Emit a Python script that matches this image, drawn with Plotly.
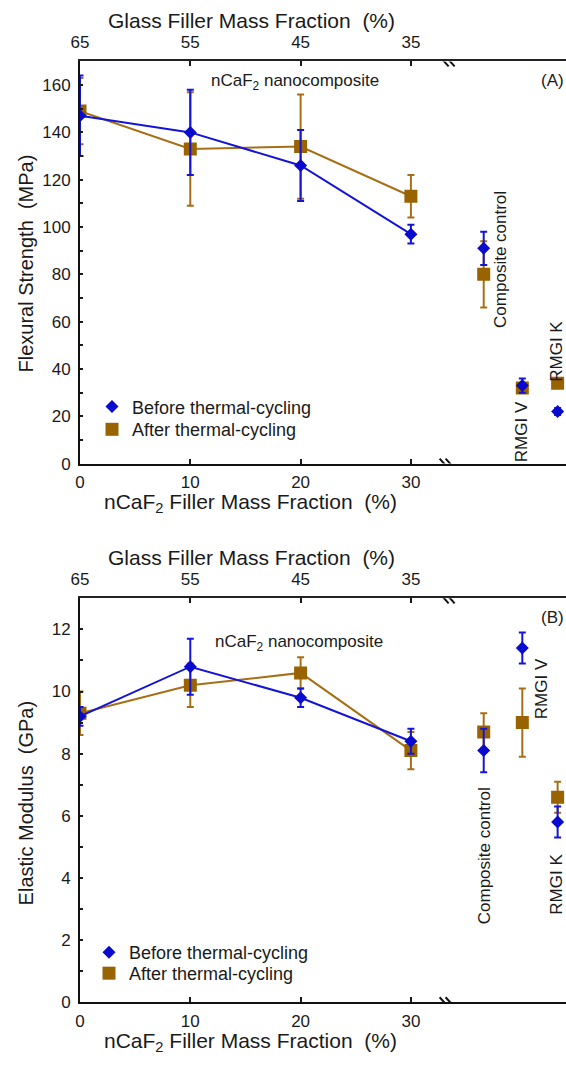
import plotly.graph_objects as go

# ---------------- data ----------------
ncaf2_frac = [0, 10, 20, 30]
ncaf2_labels = ["0", "10", "20", "30"]
glass_labels = ["65", "55", "45", "35"]

flex_before = [147, 140, 126, 97]
flex_before_err = [17, 18, 15, 4]
flex_after = [149, 133, 134, 113]
flex_after_err = [14, 24, 22, 9]

control_names = ["Composite control", "RMGI V", "RMGI K"]
control_x = [36.6, 40.1, 43.3]
flex_ctrl_before = [91, 33, 22]
flex_ctrl_before_err = [7, 3, 1.5]
flex_ctrl_after = [80, 32, 34]
flex_ctrl_after_err = [14, 2, 1.5]

mod_before = [9.2, 10.8, 9.8, 8.4]
mod_before_err = [0.3, 0.9, 0.3, 0.4]
mod_after = [9.3, 10.2, 10.6, 8.1]
mod_after_err = [0.7, 0.7, 0.5, 0.6]
mod_ctrl_before = [8.1, 11.4, 5.8]
mod_ctrl_before_err = [0.7, 0.5, 0.5]
mod_ctrl_after = [8.7, 9.0, 6.6]
mod_ctrl_after_err = [0.6, 1.1, 0.5]

series_names = ["Before thermal-cycling", "After thermal-cycling"]

# ---------------- styles ----------------
FONT = "Liberation Sans, Arial, sans-serif"
TXT = "#1a1a1a"
BLUE_M = "#0A0ACF"
BLUE_L = "#1414D9"
BROWN_M = "#996300"
BROWN_L = "#A66F16"
XMAX = 44.06
BREAK_X = 33.6

W, H = 566, 1068
top_dom = [1 - 468 / H, 1 - 62 / H]
bot_dom = [1 - 1011.7 / H, 1 - 604 / H]

fig = go.Figure()


def add_panel(xa, ya, legs, before, berr, after, aerr, cb, cberr, ca, caerr):
    # after (brown) first, blue on top
    fig.add_trace(go.Scatter(
        x=ncaf2_frac, y=after, mode="lines+markers", xaxis=xa, yaxis=ya,
        line=dict(color=BROWN_L, width=2),
        marker=dict(symbol="square", size=13, color=BROWN_M),
        error_y=dict(type="data", array=aerr, color=BROWN_L, thickness=2, width=3.5),
        showlegend=False, hoverinfo="skip"))
    fig.add_trace(go.Scatter(
        x=control_x, y=ca, mode="markers", xaxis=xa, yaxis=ya,
        marker=dict(symbol="square", size=13, color=BROWN_M),
        error_y=dict(type="data", array=caerr, color=BROWN_L, thickness=2, width=3.5),
        showlegend=False, hoverinfo="skip"))
    fig.add_trace(go.Scatter(
        x=ncaf2_frac, y=before, mode="lines+markers", xaxis=xa, yaxis=ya,
        line=dict(color=BLUE_L, width=2),
        marker=dict(symbol="diamond", size=10, color=BLUE_M),
        error_y=dict(type="data", array=berr, color=BLUE_L, thickness=2, width=3.5),
        showlegend=False, hoverinfo="skip"))
    fig.add_trace(go.Scatter(
        x=control_x, y=cb, mode="markers", xaxis=xa, yaxis=ya,
        marker=dict(symbol="diamond", size=10, color=BLUE_M),
        error_y=dict(type="data", array=cberr, color=BLUE_L, thickness=2, width=3.5),
        showlegend=False, hoverinfo="skip"))
    # legend entries (marker only), one legend box per entry for exact placement
    fig.add_trace(go.Scatter(
        x=[None], y=[None], mode="markers", xaxis=xa, yaxis=ya, name=series_names[0],
        marker=dict(symbol="diamond", size=10, color=BLUE_M), legend=legs[0]))
    fig.add_trace(go.Scatter(
        x=[None], y=[None], mode="markers", xaxis=xa, yaxis=ya, name=series_names[1],
        marker=dict(symbol="square", size=13, color=BROWN_M), legend=legs[1]))


add_panel("x", "y", ("legend", "legend3"), flex_before, flex_before_err, flex_after, flex_after_err,
          flex_ctrl_before, flex_ctrl_before_err, flex_ctrl_after, flex_ctrl_after_err)
add_panel("x2", "y2", ("legend2", "legend4"), mod_before, mod_before_err, mod_after, mod_after_err,
          mod_ctrl_before, mod_ctrl_before_err, mod_ctrl_after, mod_ctrl_after_err)

# invisible traces so the top axes render
fig.add_trace(go.Scatter(x=[None], y=[None], xaxis="x3", yaxis="y", showlegend=False, hoverinfo="skip"))
fig.add_trace(go.Scatter(x=[None], y=[None], xaxis="x4", yaxis="y2", showlegend=False, hoverinfo="skip"))

tickfont = dict(family=FONT, size=17, color=TXT)


def bottom_x(anchor):
    return dict(domain=[0, 1], anchor=anchor, range=[0, XMAX], tickmode="array",
                tickvals=ncaf2_frac, ticktext=ncaf2_labels, ticks="inside", ticklen=5,
                tickwidth=1.5, tickcolor=TXT, showline=True, linewidth=2, linecolor="#111",
                showgrid=False, zeroline=False, tickfont=tickfont, ticklabelstandoff=2)


def top_x(over, anchor):
    return dict(overlaying=over, anchor=anchor, side="top", range=[0, XMAX], tickmode="array",
                tickvals=ncaf2_frac, ticktext=glass_labels, ticks="inside", ticklen=5,
                tickwidth=1.5, tickcolor=TXT, showline=True, linewidth=1.5, linecolor="#222",
                showgrid=False, zeroline=False, tickfont=tickfont, ticklabelstandoff=5)


def y_ax(dom, anchor, rng, dtick):
    return dict(domain=dom, anchor=anchor, range=rng, dtick=dtick, tick0=0, ticks="inside",
                ticklen=3, tickwidth=1.5, tickcolor=TXT, showline=True, linewidth=2,
                linecolor="#111", showgrid=False, zeroline=False, tickfont=tickfont,
                ticklabelstandoff=4,
                minor=dict(dtick=dtick / 2, ticks="inside", ticklen=3, tickwidth=1.5,
                           tickcolor=TXT, showgrid=False))


def leg_box(marker_x, marker_y):
    # legend symbol sits ~20 px right of the box's left edge, ~12 px below its top
    return dict(x=(marker_x - 20 - 80) / 486, xanchor="left", y=1 - (marker_y - 12) / H,
                yanchor="top", font=dict(family=FONT, size=18, color=TXT),
                bgcolor="rgba(0,0,0,0)", itemwidth=30, borderwidth=0)


fig.update_layout(
    width=W, height=H, margin=dict(l=80, r=0, t=0, b=0),
    paper_bgcolor="white", plot_bgcolor="white",
    font=dict(family=FONT, color=TXT),
    xaxis=bottom_x("y"), xaxis2=bottom_x("y2"),
    xaxis3=top_x("x", "y"), xaxis4=top_x("x2", "y2"),
    yaxis=y_ax(top_dom, "x", [0, 170], 20),
    yaxis2=y_ax(bot_dom, "x2", [0, 13], 2),
    legend=leg_box(112, 404), legend3=leg_box(112, 427),
    legend2=leg_box(109, 955), legend4=leg_box(109, 976),
)

ann = []
titlefont = dict(family=FONT, size=21, color=TXT)
ytitlefont = dict(family=FONT, size=20, color=TXT)
labfont = dict(family=FONT, size=17, color=TXT)
cornerfont = dict(family=FONT, size=17, color=TXT)
rotfont = dict(family=FONT, size=17, color=TXT)


def pix_y(py):
    return 1 - py / H


def pix_x(px):
    return (px - 80) / 486


# axis titles
ann += [
    dict(text="Glass Filler Mass Fraction  (%)", xref="paper", yref="paper",
         x=pix_x(106), y=pix_y(21), xanchor="left", yanchor="middle", showarrow=False, font=titlefont),
    dict(text="nCaF<sub>2</sub> Filler Mass Fraction  (%)", xref="paper", yref="paper",
         x=pix_x(102), y=pix_y(508), xanchor="left", yanchor="middle", showarrow=False, font=titlefont),
    dict(text="Glass Filler Mass Fraction  (%)", xref="paper", yref="paper",
         x=pix_x(106), y=pix_y(563), xanchor="left", yanchor="middle", showarrow=False, font=titlefont),
    dict(text="nCaF<sub>2</sub> Filler Mass Fraction  (%)", xref="paper", yref="paper",
         x=pix_x(102), y=pix_y(1052), xanchor="left", yanchor="middle", showarrow=False, font=titlefont),
    dict(text="Flexural Strength  (MPa)", xref="paper", yref="paper", textangle=-90,
         x=pix_x(26), y=pix_y(266), xanchor="center", yanchor="middle", showarrow=False, font=ytitlefont),
    dict(text="Elastic Modulus  (GPa)", xref="paper", yref="paper", textangle=-90,
         x=pix_x(26), y=pix_y(811), xanchor="center", yanchor="middle", showarrow=False, font=ytitlefont),
]
# panel texts
ann += [
    dict(text="nCaF<sub>2</sub> nanocomposite", xref="x", yref="y", x=19.45, y=161.3,
         showarrow=False, font=labfont),
    dict(text="nCaF<sub>2</sub> nanocomposite", xref="x2", yref="y2", x=19.85, y=11.57,
         showarrow=False, font=labfont),
    dict(text="(A)", xref="paper", yref="y", x=1, y=161.8, xanchor="right", showarrow=False, font=cornerfont),
    dict(text="(B)", xref="paper", yref="y2", x=1, y=12.37, xanchor="right", showarrow=False, font=cornerfont),
]
# control labels (rotated)
top_lab = [(38.05, 86.4), (40.05, 13.6), (43.2, 47.5)]
bot_lab = [(36.63, 4.7), (41.86, 10.1), (43.2, 3.8)]
for name, (lx, ly) in zip(control_names, top_lab):
    ann.append(dict(text=name, xref="x", yref="y", x=lx, y=ly, textangle=-90,
                    showarrow=False, font=rotfont))
for name, (lx, ly) in zip(control_names, bot_lab):
    ann.append(dict(text=name, xref="x2", yref="y2", x=lx, y=ly, textangle=-90,
                    showarrow=False, font=rotfont))
fig.update_layout(annotations=ann)

# axis break marks
shapes = []
for xr, yr, anchor_y in [("x", "y", 0), ("x", "y", 170), ("x2", "y2", 0), ("x2", "y2", 13)]:
    for off in (-7, -1):
        shapes.append(dict(type="line", xref=xr, yref=yr, xsizemode="pixel", ysizemode="pixel",
                           xanchor=BREAK_X, yanchor=anchor_y, x0=off - 4, x1=off + 5, y0=5, y1=-5,
                           line=dict(color="#111", width=2)))
fig.update_layout(shapes=shapes)

fig.write_html(
    "out.html",
    config={"displayModeBar": False},
    post_script="document.body.style.margin='0';document.body.style.padding='0';"
                "document.body.style.overflow='hidden';",
)
